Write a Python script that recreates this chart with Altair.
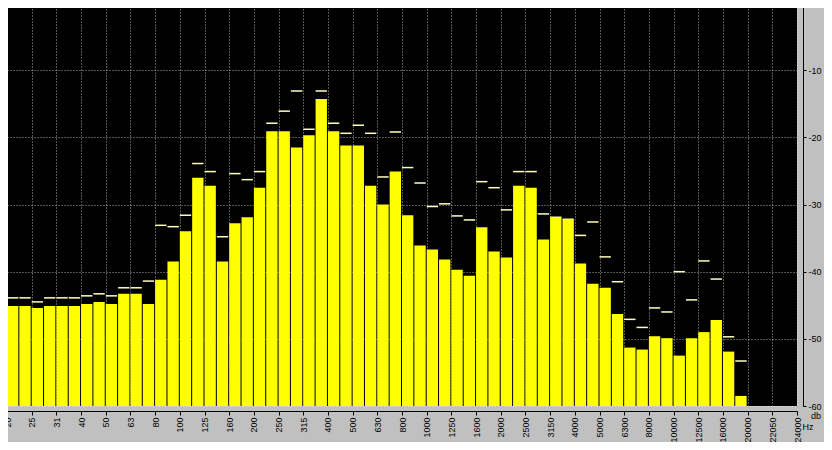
import altair as alt
import pandas as pd

freq_labels = ["20", "25", "31", "40", "50", "63", "80", "100", "125", "160",
               "200", "250", "315", "400", "500", "630", "800", "1000", "1250",
               "1600", "2000", "2500", "3150", "4000", "5000", "6300", "8000",
               "10000", "12500", "16000", "20000", "22050", "24000"]

band_level = [-45.1, -45.1, -45.4, -45.1, -45.1, -45.1, -44.8, -44.5, -44.8, -43.3,
              -43.3, -44.8, -41.2, -38.5, -34.0, -26.0, -27.2, -38.5, -32.8, -31.9,
              -27.5, -19.1, -19.1, -21.5, -19.7, -14.3, -19.1, -21.2, -21.2, -27.2,
              -30.0, -25.1, -31.6, -36.1, -36.7, -38.2, -39.7, -40.6, -33.4, -37.0,
              -37.9, -27.2, -27.5, -35.2, -31.9, -32.2, -38.8, -41.8, -42.4, -46.3,
              -51.3, -51.6, -49.6, -49.9, -52.5, -49.9, -49.0, -47.2, -51.9, -58.5]

peak_level = [-43.9, -43.9, -44.5, -43.9, -43.9, -43.9, -43.6, -43.3, -43.6, -42.4,
              -42.4, -41.4, -33.1, -33.3, -31.6, -23.9, -25.1, -34.8, -25.4, -26.3,
              -25.1, -17.9, -16.1, -13.1, -18.8, -13.1, -17.9, -19.4, -18.2, -19.4,
              -25.9, -19.2, -24.5, -26.8, -30.3, -29.9, -31.7, -32.3, -26.6, -27.5,
              -30.8, -25.1, -25.1, -31.4, -31.9, -32.2, -34.6, -32.6, -37.8, -41.5,
              -47.1, -48.3, -45.4, -46.0, -40.0, -44.2, -38.4, -41.1, -49.7, -53.3]

db_ticks = [0, -10, -20, -30, -40, -50, -60]
db_floor = -60

n_slots = 2 * (len(freq_labels) - 1)

df = pd.DataFrame({
    "band": list(range(len(band_level))),
    "level": band_level,
    "peak": peak_level,
})
df["band_end"] = df["band"] + 1
df["floor"] = db_floor

FONT = "Liberation Sans"

x_scale = alt.Scale(domain=[0, n_slots], nice=False, zero=False)
y_scale = alt.Scale(domain=[db_floor, 0], nice=False, zero=False)

label_expr = "[" + ",".join("'%s'" % s for s in freq_labels) + "][round(datum.value / 2)]"

x_axis = alt.Axis(
    orient="bottom", values=list(range(0, n_slots + 1, 2)), labelExpr=label_expr,
    labelAngle=270, labelAlign="right", labelBaseline="middle",
    offset=5, tickSize=4, labelPadding=2, grid=True, gridDash=[1, 2],
    gridColor="#a8a8a8", domainColor="black", tickColor="black",
    labelColor="black", labelFont=FONT, labelFontSize=9, title=None,
    labelOverlap=False, labelFlush=False, labelBound=False, labelSeparation=0,
)
y_axis = alt.Axis(
    orient="right", values=db_ticks, labelExpr="'' + datum.value",
    offset=6, tickSize=3, labelPadding=2, grid=True, gridDash=[1, 2],
    gridColor="#a8a8a8", domainColor="black", tickColor="black",
    labelColor="black", labelFont=FONT, labelFontSize=9, title=None,
    labelOverlap=False, labelFlush=False, labelBound=False,
)

base = alt.Chart(df)

peaks = base.mark_rule(color="#FFFFC0", strokeWidth=1.5, x2Offset=-1).encode(
    x=alt.X("band:Q", scale=x_scale, axis=x_axis),
    x2="band_end:Q",
    y=alt.Y("peak:Q", scale=y_scale, axis=y_axis),
)

bars = base.mark_rect(color="#FFFF00", x2Offset=-1).encode(
    x=alt.X("band:Q", scale=x_scale, axis=x_axis),
    x2="band_end:Q",
    y=alt.Y("level:Q", scale=y_scale, axis=y_axis),
    y2="floor:Q",
)

db_text = alt.Chart(pd.DataFrame({"t": ["db"]})).mark_text(
    font=FONT, fontSize=9, color="black", align="center", baseline="middle"
).encode(x=alt.value(809), y=alt.value(413), text="t:N")

hz_text = alt.Chart(pd.DataFrame({"t": ["Hz"]})).mark_text(
    font=FONT, fontSize=9, color="black", align="center", baseline="middle"
).encode(x=alt.value(801), y=alt.value(424), text="t:N")

chart = alt.layer(peaks, bars, db_text, hz_text).properties(
    width=790, height=403, background="#C0C0C0",
    padding={"left": -1, "top": -5, "right": 27, "bottom": 36},
    autosize="none",
).configure_view(fill="black", stroke="#E0E0E0", strokeWidth=1).configure_axis(
    labelOverlap=False
)

chart.save("out.html", embed_options={"renderer": "svg", "actions": False})
